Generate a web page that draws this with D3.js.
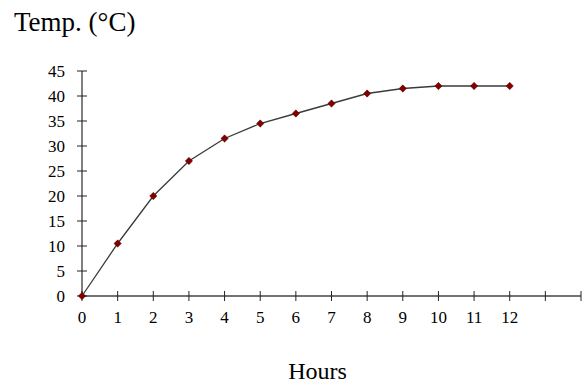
<!DOCTYPE html>
<html>
<head>
<meta charset="utf-8">
<script src="https://cdn.jsdelivr.net/npm/d3@7"></script>
<style>
  body { margin: 0; background: #fff; }
  svg { display: block; font-family: "Liberation Serif", "Times New Roman", serif; }
</style>
</head>
<body>
<div class="graph"></div>
<script>
var hours = [0, 1, 2, 3, 4, 5, 6, 7, 8, 9, 10, 11, 12];
var temps = [0, 10.5, 20, 27, 31.5, 34.5, 36.5, 38.5, 40.5, 41.5, 42, 42, 42];
var xTicks = d3.range(0, 15);
var xLabels = d3.range(0, 13);
var yTicks = [0, 5, 10, 15, 20, 25, 30, 35, 40, 45];

var width = 586,
    height = 385;

var svg = d3.select('.graph').append("svg")
    .attr("width", width)
    .attr("height", height);

var x = d3.scaleLinear().domain([0, 14]).range([82, 581]);
var y = d3.scaleLinear().domain([0, 45]).range([296, 71]);

// x axis: line plus crossing ticks
svg.append("line")
    .attr("x1", x(0)).attr("x2", x(14))
    .attr("y1", y(0)).attr("y2", y(0))
    .attr("stroke", "#444").attr("stroke-width", 1.5);

svg.append("g").selectAll("line")
    .data(xTicks)
    .enter().append("line")
    .attr("x1", function(d) { return x(d); })
    .attr("x2", function(d) { return x(d); })
    .attr("y1", y(0) - 5)
    .attr("y2", y(0) + 5)
    .attr("stroke", "#222");

svg.append("g").selectAll("text")
    .data(xLabels)
    .enter().append("text")
    .attr("x", function(d) { return x(d); })
    .attr("y", 323)
    .attr("text-anchor", "middle")
    .style("font-size", "17px")
    .text(function(d) { return d; });

// y axis
svg.append("line")
    .attr("x1", x(0)).attr("x2", x(0))
    .attr("y1", y(0)).attr("y2", y(45))
    .attr("stroke", "#000").attr("stroke-width", 1);

svg.append("g").selectAll("line")
    .data(yTicks)
    .enter().append("line")
    .attr("x1", x(0) - 5)
    .attr("x2", x(0) + 5)
    .attr("y1", function(d) { return y(d); })
    .attr("y2", function(d) { return y(d); })
    .attr("stroke", "#222");

svg.append("g").selectAll("text")
    .data(yTicks)
    .enter().append("text")
    .attr("x", 65)
    .attr("y", function(d) { return y(d); })
    .attr("dy", "0.35em")
    .attr("text-anchor", "end")
    .style("font-size", "17px")
    .text(function(d) { return d; });

// line
var data = hours.map(function(h, i) { return { h: h, t: temps[i] }; });

var line = d3.line()
    .x(function(d) { return x(d.h); })
    .y(function(d) { return y(d.t); });

svg.append("path")
    .datum(data)
    .attr("d", line)
    .attr("fill", "none")
    .attr("stroke", "#3a3a3a")
    .attr("stroke-width", 1.3);

svg.append("g").selectAll("path")
    .data(data)
    .enter().append("path")
    .attr("d", d3.symbol().type(d3.symbolDiamond2).size(34))
    .attr("transform", function(d) { return "translate(" + x(d.h) + "," + y(d.t) + ")"; })
    .attr("fill", "#800000")
    .attr("stroke", "#600000")
    .attr("stroke-width", 0.5);

// titles
svg.append("text")
    .attr("x", 14)
    .attr("y", 31)
    .style("font-size", "27px")
    .text("Temp. (°C)");

svg.append("text")
    .attr("x", 317.5)
    .attr("y", 379)
    .attr("text-anchor", "middle")
    .style("font-size", "24px")
    .text("Hours");
</script>
</body>
</html>
